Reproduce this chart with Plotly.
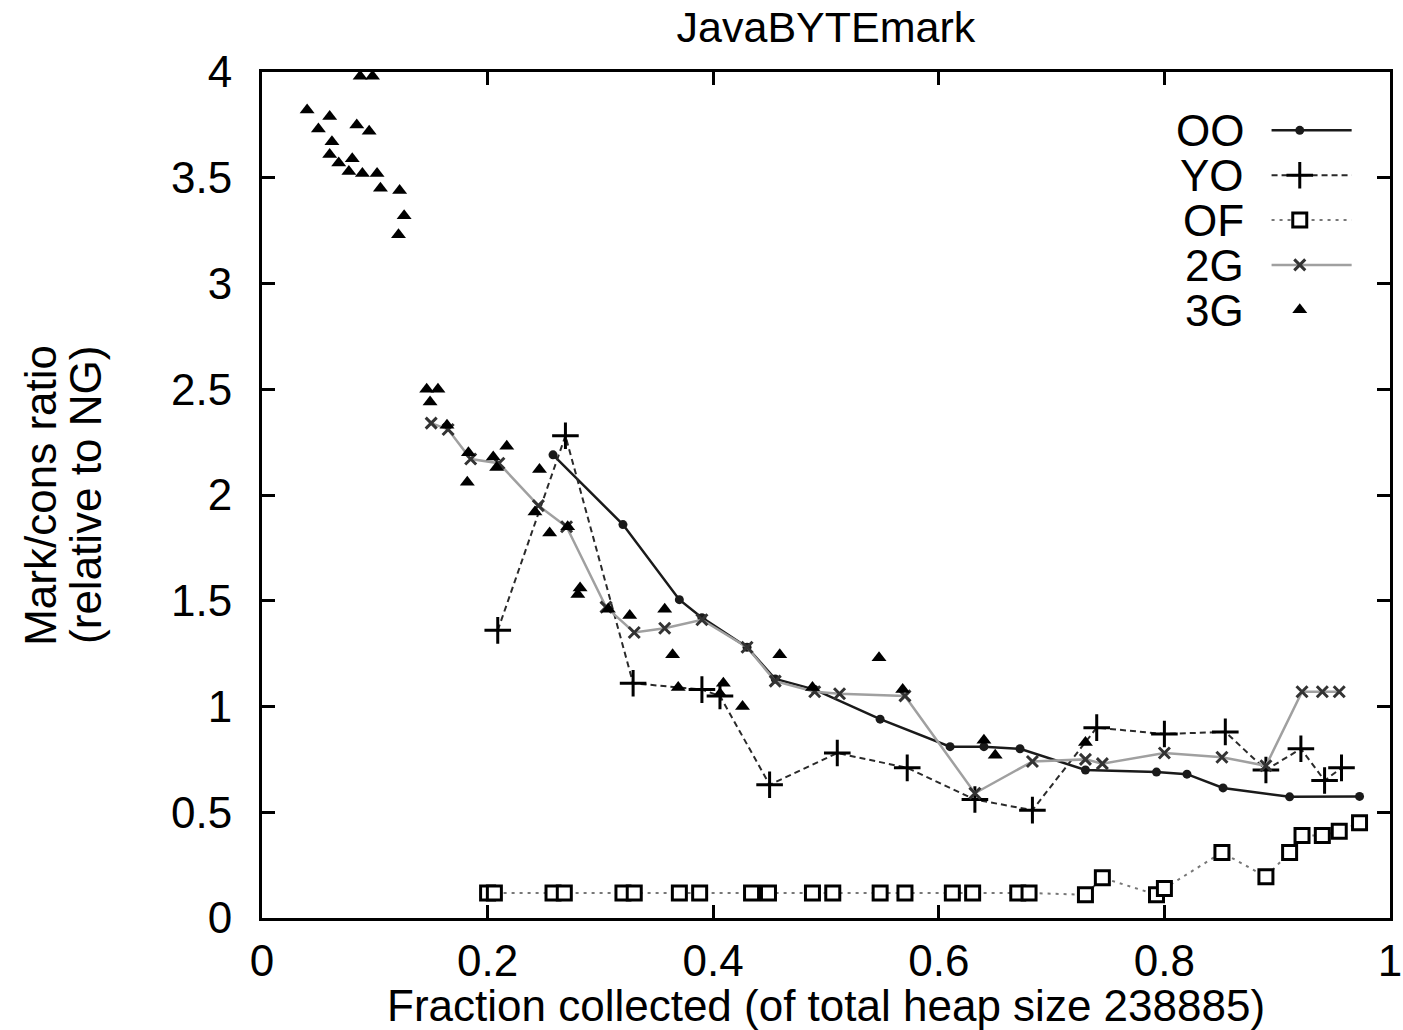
import plotly.graph_objects as go

# ---- data: mark/cons ratio (relative to NG) vs fraction of heap collected ----
oo_x = [0.258, 0.320, 0.370, 0.390, 0.430, 0.455, 0.490, 0.548, 0.610, 0.640,
        0.672, 0.730, 0.793, 0.820, 0.852, 0.911, 0.973]
oo_y = [2.19, 1.86, 1.505, 1.42, 1.28, 1.13, 1.08, 0.94, 0.81, 0.81,
        0.80, 0.70, 0.69, 0.68, 0.615, 0.573, 0.575]

yo_x = [0.209, 0.269, 0.329, 0.390, 0.406, 0.450, 0.510, 0.572, 0.632, 0.683,
        0.740, 0.800, 0.854, 0.890, 0.921, 0.942, 0.957]
yo_y = [1.36, 2.28, 1.11, 1.08, 1.05, 0.63, 0.78, 0.71, 0.56, 0.51,
        0.90, 0.87, 0.88, 0.70, 0.80, 0.65, 0.71]

of_x = [0.200, 0.206, 0.258, 0.268, 0.320, 0.330, 0.370, 0.388, 0.434, 0.449,
        0.488, 0.506, 0.548, 0.570, 0.612, 0.630, 0.670, 0.680, 0.730, 0.745,
        0.793, 0.800, 0.851, 0.890, 0.911, 0.922, 0.940, 0.955, 0.973]
of_y = [0.118, 0.118, 0.118, 0.118, 0.118, 0.118, 0.118, 0.118, 0.118, 0.118,
        0.118, 0.118, 0.118, 0.118, 0.118, 0.118, 0.118, 0.118, 0.11, 0.19,
        0.11, 0.14, 0.31, 0.195, 0.31, 0.39, 0.39, 0.41, 0.45]

g2_x = [0.150, 0.165, 0.185, 0.210, 0.245, 0.270, 0.305, 0.330, 0.357, 0.390,
        0.430, 0.455, 0.490, 0.512, 0.570, 0.632, 0.683, 0.730, 0.745, 0.800,
        0.851, 0.890, 0.922, 0.940, 0.955]
g2_y = [2.34, 2.31, 2.17, 2.15, 1.95, 1.85, 1.47, 1.35, 1.37, 1.41,
        1.28, 1.12, 1.07, 1.06, 1.05, 0.59, 0.74, 0.75, 0.73, 0.78,
        0.76, 0.72, 1.07, 1.07, 1.07]

g3_x = [0.040, 0.050, 0.060, 0.062, 0.060, 0.068, 0.080, 0.077, 0.084, 0.095,
        0.089, 0.102, 0.105, 0.122, 0.126, 0.121, 0.087, 0.098,
        0.146, 0.156, 0.149, 0.164, 0.183, 0.182, 0.205, 0.217, 0.208, 0.246,
        0.242, 0.255, 0.271, 0.282, 0.280, 0.307, 0.326, 0.357, 0.364, 0.369,
        0.409, 0.406, 0.426, 0.459, 0.488, 0.547, 0.568, 0.640, 0.650, 0.730]
g3_y = [3.82, 3.73, 3.79, 3.67, 3.61, 3.57, 3.59, 3.53, 3.75, 3.72,
        3.52, 3.52, 3.45, 3.44, 3.32, 3.23, 3.98, 3.98,
        2.50, 2.50, 2.44, 2.33, 2.20, 2.06, 2.18, 2.23, 2.13, 2.12,
        1.92, 1.82, 1.85, 1.56, 1.53, 1.46, 1.43, 1.46, 1.245, 1.09,
        1.11, 1.06, 1.00, 1.245, 1.09, 1.23, 1.08, 0.84, 0.77, 0.83]

series_names = ["OO", "YO", "OF", "2G", "3G"]
x_ticks = [0, 0.2, 0.4, 0.6, 0.8, 1]
x_tick_text = ["0", "0.2", "0.4", "0.6", "0.8", "1"]
y_ticks = [0, 0.5, 1, 1.5, 2, 2.5, 3, 3.5, 4]
y_tick_text = ["0", "0.5", "1", "1.5", "2", "2.5", "3", "3.5", "4"]

FONT = "Liberation Sans, Arial, sans-serif"
FS = 44

styles = {
    "OO": dict(mode="lines+markers",
               line=dict(color="#1a1a1a", width=2.5),
               marker=dict(symbol="circle", size=9, color="#1a1a1a")),
    "YO": dict(mode="lines+markers",
               line=dict(color="#2a2a2a", width=2, dash="6px,4px"),
               marker=dict(symbol="cross-thin", size=19,
                           line=dict(color="black", width=3))),
    "OF": dict(mode="lines+markers",
               line=dict(color="#777777", width=2, dash="3px,5px"),
               marker=dict(symbol="square", size=14, color="white",
                           line=dict(color="black", width=3))),
    "2G": dict(mode="lines+markers",
               line=dict(color="#a0a0a0", width=2.5),
               marker=dict(symbol="x-thin", size=11,
                           line=dict(color="#333333", width=3))),
    "3G": dict(mode="markers",
               marker=dict(symbol="triangle-up", size=13, color="black")),
}

data = {
    "OO": (oo_x, oo_y),
    "YO": (yo_x, yo_y),
    "OF": (of_x, of_y),
    "2G": (g2_x, g2_y),
    "3G": (g3_x, g3_y),
}

fig = go.Figure()
for name in series_names:
    xs, ys = data[name]
    fig.add_trace(go.Scatter(x=xs, y=ys, name=name, showlegend=False,
                             cliponaxis=False, **styles[name]))

# key: label on the left, line sample with a marker on the right
key_rows = [0.931, 0.878, 0.825, 0.772, 0.719]
for name, ky in zip(series_names, key_rows):
    st = styles[name]
    if "lines" in st["mode"]:
        fig.add_trace(go.Scatter(x=[0.895, 0.966], y=[ky, ky], mode="lines",
                                 line=st["line"], xaxis="x2", yaxis="y2",
                                 showlegend=False, hoverinfo="skip"))
    fig.add_trace(go.Scatter(x=[0.92], y=[ky], mode="markers",
                             marker=st["marker"], xaxis="x2", yaxis="y2",
                             showlegend=False, hoverinfo="skip"))
    fig.add_annotation(xref="paper", yref="paper", x=0.872, y=ky,
                       xanchor="right", yanchor="middle", text=name, height=42,
                       showarrow=False, font=dict(family=FONT, size=FS, color="black"))

axis_common = dict(showline=True, linecolor="black", linewidth=3, mirror="ticks",
                   ticks="inside", ticklen=13, tickwidth=3, tickcolor="black",
                   showgrid=False, zeroline=False, automargin=False,
                   tickfont=dict(family=FONT, size=FS, color="black"))

fig.update_layout(
    width=1403, height=1030,
    margin=dict(l=262, r=13, t=72, b=112),
    paper_bgcolor="white", plot_bgcolor="white",
    title=dict(text="JavaBYTEmark", x=0.5887, xanchor="center",
               y=0.974, yanchor="middle", yref="container",
               font=dict(family=FONT, size=43, color="black")),
    xaxis=dict(range=[0, 1], tickvals=x_ticks, ticktext=x_tick_text,
               ticklabelstandoff=2, **axis_common),
    yaxis=dict(range=[0, 4], tickvals=y_ticks, ticktext=y_tick_text,
               ticklabelstandoff=18, **axis_common),
    xaxis2=dict(range=[0, 1], overlaying="x", visible=False, automargin=False),
    yaxis2=dict(range=[0, 1], overlaying="y", visible=False, automargin=False),
    showlegend=False,
)

# x axis title
fig.add_annotation(xref="paper", yref="paper", x=0.5, y=-0.103,
                   xanchor="center", yanchor="middle",
                   text="Fraction collected (of total heap size 238885)",
                   showarrow=False, font=dict(family=FONT, size=FS, color="black"))

# two-line y axis title
fig.add_annotation(xref="paper", yref="paper", x=-0.197, y=0.5, textangle=-90,
                   xanchor="center", yanchor="middle", text="Mark/cons ratio",
                   showarrow=False, font=dict(family=FONT, size=FS, color="black"))
fig.add_annotation(xref="paper", yref="paper", x=-0.157, y=0.5, textangle=-90,
                   xanchor="center", yanchor="middle", text="(relative to NG)",
                   showarrow=False, font=dict(family=FONT, size=FS, color="black"))

fig.write_html("out.html")
